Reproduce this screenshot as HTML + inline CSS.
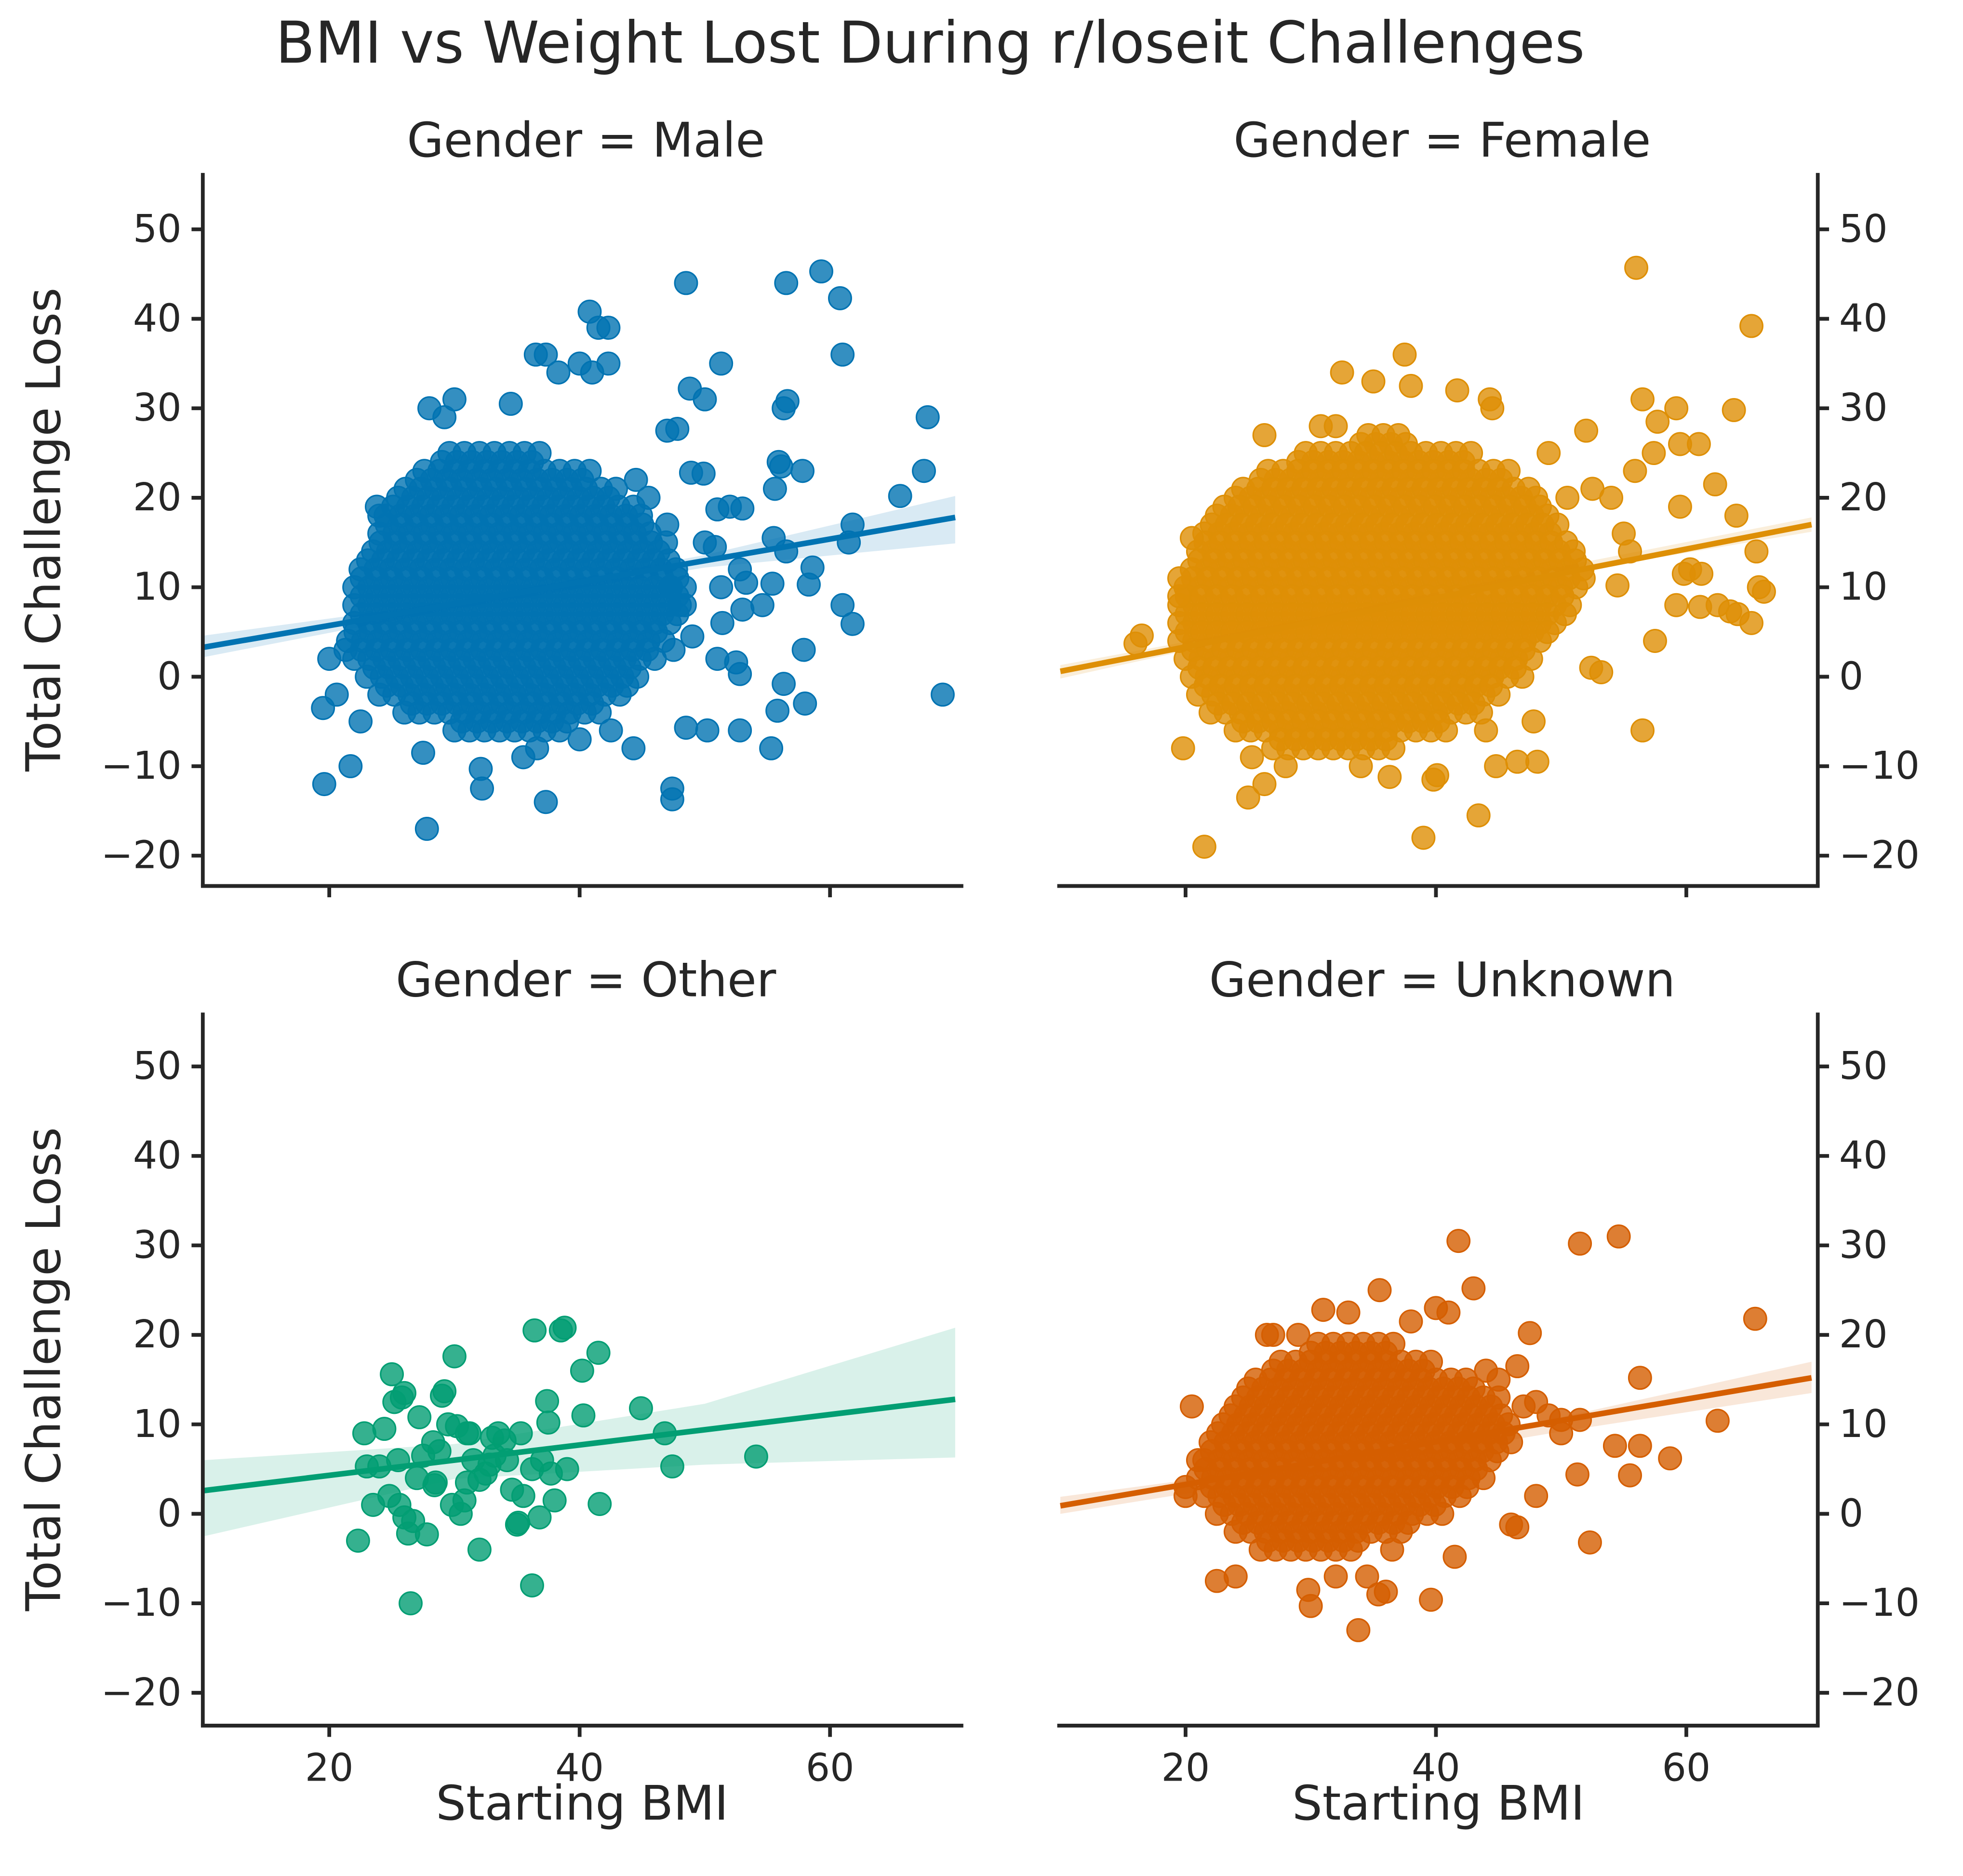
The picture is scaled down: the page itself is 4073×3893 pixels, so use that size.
<!DOCTYPE html>
<html><head><meta charset="utf-8"><style>
html,body{margin:0;padding:0;background:#fff}
svg{display:block}
text{font-family:"DejaVu Sans","Liberation Sans",sans-serif;fill:#262626}
</style></head><body>
<svg id="chart" width="4073" height="3893" viewBox="0 0 1568 1497" preserveAspectRatio="none" xmlns="http://www.w3.org/2000/svg">
<text x="743" y="50" font-size="46" text-anchor="middle">BMI vs Weight Lost During r/loseit Challenges</text>
<g id="layer"></g>
</svg>
<script>
// ---- data ----
const xTicks = [20, 40, 60];
const yTicks = [-20, -10, 0, 10, 20, 30, 40, 50];
const panelNames = ["Male", "Female", "Other", "Unknown"];
const panelColors = ["#0173b2", "#de8f05", "#029e73", "#d55e00"];
const maleFit = [3.3, 17.8];
const femaleFit = [0.6, 17.0];
const otherFit = [2.6, 12.8];
const unknownFit = [0.9, 15.2];
const bandX = [10, 30, 50, 70];
const maleBandLo = [2.2, 7.6, 12.2, 14.9];
const maleBandHi = [4.6, 8.4, 13.6, 20.2];
const femaleBandLo = [-0.2, 6.0, 11.5, 16.2];
const femaleBandHi = [1.3, 6.5, 12.3, 17.8];
const otherBandLo = [-2.5, 3.9, 5.5, 6.3];
const otherBandHi = [6.0, 7.8, 12.3, 20.8];
const unknownBandLo = [0.0, 4.5, 9.2, 13.5];
const unknownBandHi = [1.9, 5.6, 10.8, 17.0];
// dense cores: [y, xStart, xEnd]
const maleCore = [[24,29,37],[22,27,41],[20,25.5,43],[18,24.5,45],[16,24,46],[14,23.5,47],[12,22.5,48],[10,22,48.5],[8,22,48.5],[6,22,48],[4,21.5,47],[2,22,46],[0,23,45],[-2,24,44],[-4,26,42],[-6,30,39]];
const femaleCore = [[26,34,38],[24,29,43],[22,26,46],[20,24,48],[18,22.5,49],[16,21.5,50],[14,21,51],[12,20.5,52],[10,20,52],[8,19.5,51],[6,19.5,50],[4,19.5,49],[2,20,48],[0,20.5,47],[-2,21,45],[-4,22,44],[-6,24,41],[-8,27,37]];
const unknownCore = [[18,30,37],[16,27,40],[14,25,43],[12,24,45],[10,23,46],[8,22,46],[6,21.5,45],[4,21,44],[2,21.5,43],[0,22.5,41],[-2,24,38],[-4,26,34]];
const otherCore = [];
const malePts = [[48.5,44],[59.3,45.3],[56.5,44],[60.8,42.3],[40.8,40.8],[41.5,39],[42.3,39],[61,36],[51.3,35],[42.3,35],[36.5,36],[37.3,36],[38.3,34],[40,35],[41,34],[48.8,32.2],[50,31],[56.6,30.8],[56.3,30],[67.8,29],[34.5,30.5],[30,31],[28,30],[29.2,29],[47,27.5],[47.8,27.7],[55.9,24],[56.1,23.5],[57.8,23],[67.5,23],[65.6,20.2],[48.9,22.8],[49.9,22.7],[55.6,21],[61.8,17],[61.5,15],[52,19],[51,18.7],[53,18.8],[55.5,15.5],[56.5,14],[50,15],[50.8,14.5],[58.6,12.2],[58.3,10.3],[61,8],[61.8,5.9],[52.8,12],[53.3,10.5],[51.3,10],[54.6,8],[53,7.5],[51.4,6],[55.4,10.4],[57.9,3],[52.5,1.6],[51,2],[52.8,0.3],[56.3,-0.8],[58,-3],[55.8,-3.8],[52.8,-6],[50.2,-6],[48.5,-5.7],[55.3,-8],[47.4,-12.5],[47.4,-13.7],[44.3,-8],[42.5,-6],[40,-7],[37.3,-14],[32.1,-10.3],[32.2,-12.5],[27.8,-17],[19.6,-12],[21.7,-10],[19.5,-3.5],[20,2],[21.3,3],[20.6,-2],[22.5,-5],[27.5,-8.5],[35.5,-9],[36.6,-8],[44.5,22],[45.5,20],[47,17],[23.8,19],[24,18],[47.3,10],[48,8],[49,4.5],[47.5,3],[69,-2]];
const femalePts = [[56,45.7],[65.2,39.2],[37.5,36],[32.5,34],[35,33],[38,32.5],[41.7,32],[44.3,31],[44.5,30],[56.5,31],[59.2,30],[63.8,29.8],[57.7,28.5],[57.4,25],[52,27.5],[55.9,23],[62.3,21.5],[61,26],[59.5,26],[59.5,19],[64,18],[59.8,11.5],[61.2,11.5],[60.3,12],[65.6,14],[65.8,10],[66.2,9.5],[62.5,8],[63.5,7.3],[64.1,7],[65.2,6],[61.1,7.8],[59.2,8],[57.5,4],[56.5,-6],[52.4,1],[53.2,0.5],[50.3,7],[48.1,-9.5],[47.8,-5],[46.5,-9.5],[44.8,-10],[44,-6],[43.4,-15.5],[39,-18],[39.8,-11.5],[40.1,-11],[36.3,-11.2],[34,-10],[28,-10],[25,-13.5],[21.5,-19],[26.3,-12],[25.3,-9],[19.8,-8],[16.5,4.6],[16,3.7],[19.5,9],[19.5,11],[20.5,15.5],[26.3,27],[30.8,28],[32,28],[49,25],[50.5,20],[52.5,21],[54,20],[55,16],[55.5,14],[54.5,10.2]];
const otherPts = [[22.3,-3],[22.8,9],[23,5.3],[23.5,1],[24,5.3],[24.4,9.5],[24.8,2],[25,15.6],[25.2,12.5],[25.5,6],[25.8,13],[26,13.5],[25.6,1],[26,-0.4],[26.3,-2.2],[26.5,-10],[26.7,-0.8],[27,4],[27.2,10.8],[27.5,6.5],[27.8,-2.3],[28.3,8],[28.4,3.2],[28.8,7],[29,13.2],[29.2,13.7],[29.5,10],[30,17.6],[30.2,9.8],[30.5,0],[30.8,1.5],[31,3.5],[31.2,9],[31.5,6],[32,-4],[32,3.8],[32.5,4.5],[32.8,5.5],[33,8.5],[33.5,9],[34,8.2],[34.2,6],[34.6,2.7],[35,-1.2],[35.1,-1],[35.3,9],[35.5,2],[36.2,-8],[36.2,5],[36.4,20.5],[36.8,-0.4],[37,6],[37.4,12.6],[37.5,10.2],[37.7,4.5],[38,1.5],[38.5,20.5],[38.8,20.8],[39,5],[40.2,16],[40.3,11],[41.5,18],[41.6,1.1],[44.9,11.8],[46.8,9],[47.4,5.3],[54.1,6.4],[33.2,6.5],[29.8,1],[28.5,3.5],[31,9]];
const unknownPts = [[41.8,30.5],[51.5,30.2],[54.6,31],[65.5,21.8],[62.5,10.4],[58.7,6.2],[56.3,15.2],[55.5,4.3],[56.3,7.6],[54.3,7.6],[52.3,-3.2],[51.3,4.4],[50,9],[51.5,10.5],[48,2],[47.5,20.2],[46,-1.2],[46.5,-1.5],[43,25.2],[41,22.5],[40,23],[38,21.5],[35.5,25],[33,22.5],[31,22.8],[27,20],[29,20],[26.5,20],[20.5,12],[20,3],[20,2],[21,6],[22.5,-7.5],[24,-7],[30,-10.3],[29.8,-8.5],[32,-7],[33.8,-13],[35.4,-9],[36,-8.7],[39.6,-9.6],[41.5,-4.8],[34.5,-7],[36.5,-4],[45,15],[44,16],[47,12],[49,11],[50,10.5],[46.5,16.5],[48,12.5]];

const fits = [maleFit, femaleFit, otherFit, unknownFit];
const bandsLo = [maleBandLo, femaleBandLo, otherBandLo, unknownBandLo];
const bandsHi = [maleBandHi, femaleBandHi, otherBandHi, unknownBandHi];
const cores = [maleCore, femaleCore, otherCore, unknownCore];
const pts = [malePts, femalePts, otherPts, unknownPts];

const panels = [
  {x0:163, y0:540, top:138, bot:707, left:162, right:768, side:"left", xlabels:false},
  {x0:847, y0:540, top:138, bot:707, left:846, right:1452, side:"right", xlabels:false},
  {x0:163, y0:1208, top:808, bot:1377, left:162, right:768, side:"left", xlabels:true},
  {x0:847, y0:1208, top:808, bot:1377, left:846, right:1452, side:"right", xlabels:true}
];
const NS = "http://www.w3.org/2000/svg";
const layer = document.getElementById("layer");
function mk(tag, attrs, parent) {
  const e = document.createElementNS(NS, tag);
  for (const k in attrs) e.setAttribute(k, attrs[k]);
  (parent || layer).appendChild(e);
  return e;
}
panels.forEach((p, i) => {
  const sx = v => p.x0 + (v - 10) * 10;
  const sy = v => p.y0 - v * 7.14;
  const color = panelColors[i];
  const g = mk("g", {});
  
  
  const t = mk("text", {x: (p.left + p.right) / 2 + 3, y: p.top - 13, "font-size": 38, "text-anchor": "middle"}, g);
  t.textContent = "Gender = " + panelNames[i];
  
  
  const pg = mk("g", {"fill-opacity": 0.8, fill: color, stroke: color, "stroke-width": 1.2}, g);
  
  
  cores[i].forEach((row, r) => {
    for (let sub = 0; sub < 2; sub++) {
      const yv = row[0] + sub * 1.0;
      const off = ((r * 2 + sub) % 2) * 0.6;
      for (let x = row[1] + off; x <= row[2] + 0.01; x += 1.2) {
        const c = mk("circle", {cx: sx(x), cy: sy(yv), r: 9}, pg);
        
        
      }
    }
  });
  pts[i].forEach(d => {
    const c = mk("circle", {cx: sx(d[0]), cy: sy(d[1]), r: 9}, pg);
    
    
  });
  let dp = "";
  bandX.forEach((x, k) => { dp += (k ? "L" : "M") + sx(x) + "," + sy(bandsHi[i][k]); });
  for (let k = bandX.length - 1; k >= 0; k--) dp += "L" + sx(bandX[k]) + "," + sy(bandsLo[i][k]);
  const band = mk("path", {d: dp + "Z", fill: color, "fill-opacity": 0.15}, g);
  
  
  const ln = mk("line", {x1: sx(10), y1: sy(fits[i][0]), x2: sx(70), y2: sy(fits[i][1]), stroke: color, "stroke-width": 4.5}, g);
  
  
  const spX = p.side === "left" ? p.left : p.right;
  const ys = mk("line", {x1: spX, y1: p.top, x2: spX, y2: p.bot, stroke: "#262626", "stroke-width": 3}, g);
  
  
  const xs = mk("line", {x1: p.left - 1.5, y1: p.bot, x2: p.right + 1.5, y2: p.bot, stroke: "#262626", "stroke-width": 3}, g);
  
  
  yTicks.forEach(v => {
    const y = sy(v);
    const dir = p.side === "left" ? -1 : 1;
    const tk = mk("line", {x1: spX, y1: y, x2: spX + dir * 9, y2: y, stroke: "#262626", "stroke-width": 3}, g);
    
    
    const lb = mk("text", {x: spX + dir * 17, y: y + 10, "font-size": 30.5, "text-anchor": p.side === "left" ? "end" : "start"}, g);
    lb.textContent = v < 0 ? "\u2212" + Math.abs(v) : String(v);
    
    
  });
  xTicks.forEach(v => {
    const x = sx(v);
    const tk = mk("line", {x1: x, y1: p.bot, x2: x, y2: p.bot + 9, stroke: "#262626", "stroke-width": 3}, g);
    
    
    if (p.xlabels) {
      const lb = mk("text", {x: x, y: p.bot + 44, "font-size": 30.5, "text-anchor": "middle"}, g);
      lb.textContent = String(v);
      
      
    }
  });
  if (p.xlabels) {
    const xl = mk("text", {x: (p.left + p.right) / 2, y: 1452, "font-size": 38, "text-anchor": "middle"}, g);
    xl.textContent = "Starting BMI";
    
    
  }
  if (p.side === "left") {
    const cy = (p.top + p.bot) / 2;
    const yl = mk("text", {x: 48, y: cy, "font-size": 38, "text-anchor": "middle", transform: "rotate(-90 48 " + cy + ")"}, g);
    yl.textContent = "Total Challenge Loss";
    
    
  }
});
</script>
</body></html>
